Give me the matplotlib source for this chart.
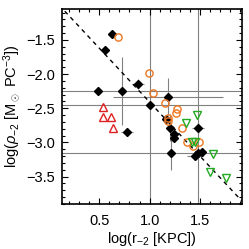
import numpy as np
import matplotlib
matplotlib.use('Agg')
from matplotlib import pyplot as plt
from matplotlib.ticker import MultipleLocator

plt.rcParams['font.family'] = ['Liberation Sans', 'DejaVu Sans']
plt.rcParams['mathtext.fontset'] = 'custom'
plt.rcParams['mathtext.rm'] = 'Liberation Sans'
plt.rcParams['mathtext.it'] = 'Liberation Sans:italic'

# black diamonds with error bars
bx = [0.63, 0.56, 0.49, 0.73, 0.885, 1.0, 1.183, 1.16, 1.203, 1.242, 1.245,
      1.21, 1.451, 1.478, 1.523, 1.478, 0.772]
by = [-1.42, -1.64, -2.25, -2.25, -2.148, -2.45, -2.33, -2.65, -2.783, -2.88, -2.93,
      -3.15, -3.198, -3.158, -3.135, -2.79, -2.842]
bxerr = [0.04, 0.03, 0.05, 1.6, 0.06, 1.6, 0.55, 0.03, 0.04, 0.04, 0.03,
         0.04, 0.08, 1.6, 0.03, 0.06, 0.06]
byerr = [0.03, 0.04, 0.06, 0.5, 0.07, 3.0, 0.27, 0.04, 0.2, 0.06, 0.06,
         0.25, 0.05, 3.0, 0.04, 0.1, 0.06]

# orange open circles
ox = [0.689, 0.997, 1.037, 1.157, 1.272, 1.262, 1.186, 1.186, 1.322, 1.371, 1.431, 1.487]
oy = [-1.456, -1.987, -2.28, -2.42, -2.505, -2.563, -2.635, -2.68, -2.795, -2.988, -3.045, -2.988]

# green open down-triangles
gx = [1.467, 1.361, 1.42, 1.452, 1.63, 1.6, 1.762]
gy = [-2.605, -2.71, -2.99, -3.0, -3.172, -3.428, -3.52]

# red open up-triangles
rx = [0.54, 0.54, 0.617, 0.64]
ry = [-2.476, -2.63, -2.63, -2.783]

# dashed relation
slope, icpt = -1.58, -0.83

fig = plt.figure(figsize=(2.49, 2.49), dpi=100)
ax = fig.add_axes([0.249, 0.181, 0.724, 0.782])

ax.errorbar(bx, by, xerr=bxerr, yerr=byerr, fmt='none', ecolor='#808080',
            elinewidth=0.8, capsize=0, zorder=1)
ax.plot(bx, by, 'D', color='black', markersize=4.2, zorder=3)
ax.plot(ox, oy, 'o', mfc='none', mec='#EE7722', mew=1.0, markersize=5.2, zorder=4)
ax.plot(gx, gy, 'v', mfc='none', mec='#22AA22', mew=1.0, markersize=5.8, zorder=4)
ax.plot(rx, ry, '^', mfc='none', mec='#DD2222', mew=1.0, markersize=5.8, zorder=4)

xl = np.array([0.0, 2.1])
ax.plot(xl, icpt + slope * xl, '--', color='black', lw=1.0, dashes=(3, 3), zorder=2)

ax.set_xlim(0.13, 1.92)
ax.set_ylim(-3.9, -1.05)
ax.xaxis.set_major_locator(MultipleLocator(0.5))
ax.xaxis.set_minor_locator(MultipleLocator(0.1))
ax.yaxis.set_major_locator(MultipleLocator(0.5))
ax.yaxis.set_minor_locator(MultipleLocator(0.1))
ax.tick_params(which='both', direction='in', top=True, right=True, labelsize=10.5,
               width=0.8, color='black')
ax.tick_params(which='major', length=4)
ax.tick_params(which='minor', length=2)
ax.tick_params(axis='x', pad=7)
ax.tick_params(axis='y', pad=5)
for s in ax.spines.values():
    s.set_linewidth(1.2)

ax.set_xlabel(r'log(r$_{-2}$ [KPC])', fontsize=10.5, labelpad=2)
ax.set_ylabel(r'log($\rho_{-2}$ [M$_\odot$ PC$^{-3}$])', fontsize=10.5, labelpad=3)

fig.savefig('out.png', dpi=100)
